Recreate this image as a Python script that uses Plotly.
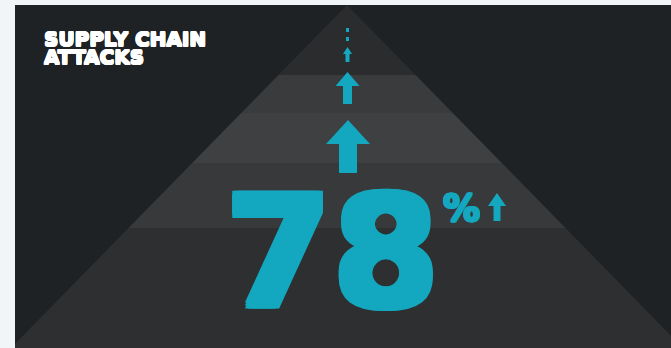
import plotly.graph_objects as go

# ---- data ----
title_lines = ["SUPPLY CHAIN", "ATTACKS"]
stat_value = 78
stat_suffix = "%"
# horizontal bands of the pyramid (top, bottom in pixel rows)
band_tops = [5, 75, 113, 163, 228]
band_bottoms = [75, 113, 163, 228, 348]
band_colors = ["#2a2c2e", "#3a3b3d", "#3f4042", "#38393b", "#2e2f31"]

W, H = 671, 348
CYAN = "#13a8bf"
BG = "#1f2224"
apex_x, apex_y = 347, 5
slope = 0.98

fig = go.Figure()

shapes = []
# dark panel
shapes.append(dict(type="rect", x0=15, x1=W, y0=5, y1=H, fillcolor=BG, line_width=0, layer="below"))

def hw(y):
    return (y - apex_y) * slope

for t, b, c in zip(band_tops, band_bottoms, band_colors):
    pts = [(apex_x - hw(t), t), (apex_x + hw(t), t), (apex_x + hw(b), b), (apex_x - hw(b), b)]
    path = "M " + " L ".join(f"{x:.1f},{y:.1f}" for x, y in pts) + " Z"
    shapes.append(dict(type="path", path=path, fillcolor=c, line_width=0, layer="below"))

def arrow(cx, top, head_base, head_hw, stem_hw, bottom):
    pts = [(cx, top), (cx + head_hw, head_base), (cx + stem_hw, head_base), (cx + stem_hw, bottom),
           (cx - stem_hw, bottom), (cx - stem_hw, head_base), (cx - head_hw, head_base)]
    return dict(type="path", path="M " + " L ".join(f"{x:.1f},{y:.1f}" for x, y in pts) + " Z",
                fillcolor=CYAN, line_width=0)

# dots
shapes.append(dict(type="rect", x0=346, x1=349, y0=28, y1=32, fillcolor=CYAN, line_width=0))
shapes.append(dict(type="rect", x0=346, x1=349, y0=37, y1=41, fillcolor=CYAN, line_width=0))
shapes.append(arrow(347.5, 47, 54, 4.5, 2, 62))
shapes.append(arrow(347.5, 72, 86, 12, 4.5, 104))
shapes.append(arrow(348, 120, 144, 22, 9, 173))
shapes.append(arrow(497, 193, 206, 9, 3.5, 221))
# left light border overlay
shapes.append(dict(type="rect", x0=0, x1=15, y0=0, y1=H, fillcolor="#f2f5f8", line_width=0))
shapes.append(dict(type="rect", x0=0, x1=W, y0=0, y1=5, fillcolor="#f2f5f8", line_width=0))

def bold_shadow(px, color):
    offs = [(px, 0), (-px, 0), (0, px), (0, -px), (px, px), (-px, -px), (px, -px), (-px, px)]
    return ", ".join(f"{dx}px {dy}px 0px {color}" for dx, dy in offs)

title_text = "<br>".join(f"<span style='font-size:20px'><b>{t}</b></span>" for t in title_lines)
annotations = [
    dict(x=42, y=47.5, text=title_text, xanchor="left", yanchor="middle", align="left", showarrow=False,
         font=dict(family="DejaVu Sans", size=13.9, color="white", shadow=bold_shadow(0.6, "white"))),
    dict(x=332, y=252, text=f"<b>{stat_value}</b>", xanchor="center", yanchor="middle", showarrow=False,
         font=dict(family="DejaVu Sans", size=154, color=CYAN, shadow=bold_shadow(3, CYAN))),
    dict(x=461, y=208, text=f"<b>{stat_suffix}</b>", xanchor="center", yanchor="middle", showarrow=False,
         font=dict(family="DejaVu Sans", size=37, color=CYAN, shadow=bold_shadow(1, CYAN))),
]

fig.update_layout(
    width=W, height=H, margin=dict(l=0, r=0, t=0, b=0),
    paper_bgcolor="#f2f5f8", plot_bgcolor="#f2f5f8",
    xaxis=dict(range=[0, W], visible=False, fixedrange=True),
    yaxis=dict(range=[H, 0], visible=False, fixedrange=True),
    shapes=shapes, annotations=annotations, showlegend=False,
)
fig.write_html("out.html")
